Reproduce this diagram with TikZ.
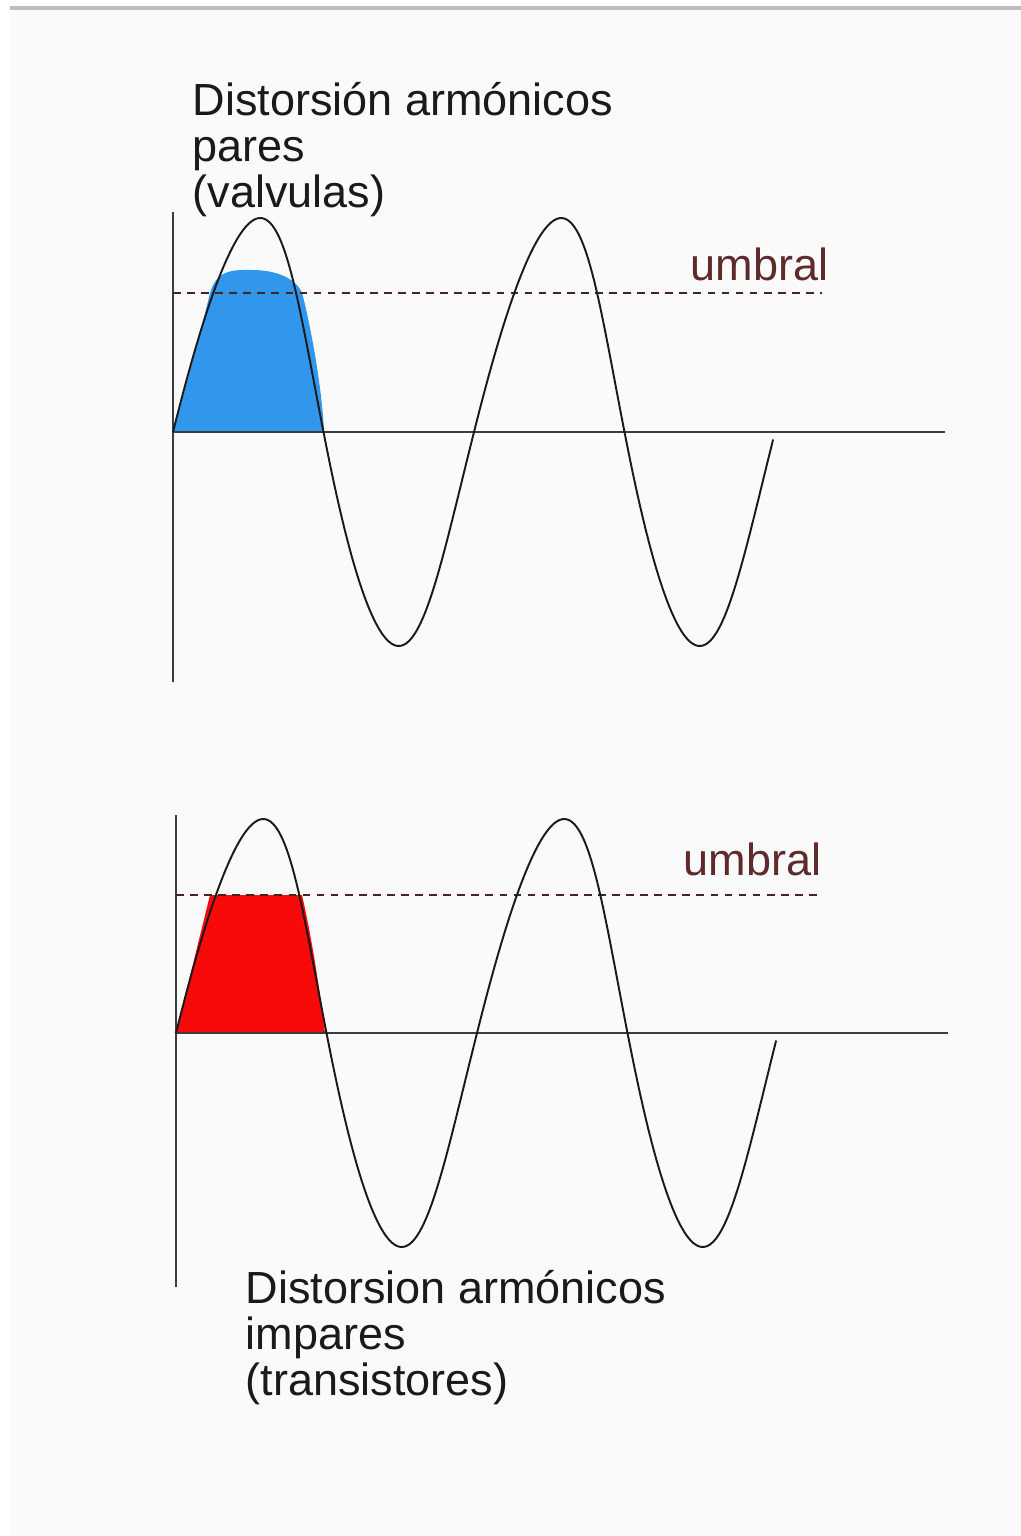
\documentclass[tikz,border=0pt]{standalone}
\usepackage{fontspec}
\setmainfont{Liberation Sans}
\usetikzlibrary{positioning}
\definecolor{paper}{HTML}{FAFAFA}
\definecolor{frame}{HTML}{BDBDBD}
\definecolor{ink}{HTML}{1A1A1A}
\definecolor{maroon}{HTML}{5E2A2A}
\definecolor{tube}{HTML}{3197EC}
\definecolor{trans}{HTML}{F80A0A}

\begin{document}
\begin{tikzpicture}[x=0.01cm,y=-0.01cm,text=ink,
 axis/.style={draw=ink!85,line width=.8pt},
 wave/.style={draw=ink,line width=.55pt,samples=240,variable=\t,smooth},
 threshold/.style={draw=maroon!80!black,line width=.6pt,dash pattern=on 2.2pt off 1.8pt},
 caption/.style={align=left,inner sep=0pt,font=\fontsize{12.8}{13}\selectfont},
 tag/.style={inner sep=0pt,text=maroon,font=\fontsize{12.8}{13}\selectfont}]
 \useasboundingbox (0,0) rectangle (1021,1536);
 \fill[paper] (10,10) rectangle (1021,1536); \draw[frame,line width=.9pt] (10,8)--(1021,8);
 % valvulas
 \coordinate (o1) at (173,432); \coordinate (y1) at (173,212); \coordinate (b1) at (173,682); \coordinate (x1) at (945,432);
 \coordinate (d1a) at (173,293); \coordinate (d1b) at (822,293);
 \fill[tube] (o1) .. controls (185,390) and (200,335) .. (210,293) .. controls (217,268) and (236,270) .. (253,270)
  .. controls (275,270) and (296,278) .. (302,293) .. controls (309,318) and (322,385) .. (324,432) -- cycle;
 \draw[axis] (y1)--(b1); \draw[axis] (o1)--(x1); \draw[threshold] (d1a)--(d1b);
 \draw[wave] plot[domain=0:718] ({173+\t*0.83611+6*(sin(\t)+sin(\t)^2)},{432-214*sin(\t)});
 \node[caption,anchor=north west] (cap1) at (192,82) {Distorsión armónicos\\pares\\(valvulas)};
 \node[tag,anchor=base west] (tag1) at (690,280) {umbral};
 % transistores
 \coordinate (o2) at (176,1033); \coordinate (y2) at (176,815); \coordinate (b2) at (176,1287); \coordinate (x2) at (948,1033);
 \coordinate (d2a) at (176,895); \coordinate (d2b) at (820,895);
 \fill[trans] (o2) -- (210,895) -- (302,895) .. controls (309,925) and (318,975) .. (325,1033) -- cycle;
 \draw[axis] (y2)--(b2); \draw[axis] (o2)--(x2); \draw[threshold] (d2a)--(d2b);
 \draw[wave] plot[domain=0:718] ({176+\t*0.83611+6*(sin(\t)+sin(\t)^2)},{1033-214*sin(\t)});
 \node[caption,anchor=north west] (cap2) at (245,1270) {Distorsion armónicos\\impares\\(transistores)};
 \node[tag,anchor=base west] (tag2) at (683,875) {umbral};
\end{tikzpicture}
\end{document}
